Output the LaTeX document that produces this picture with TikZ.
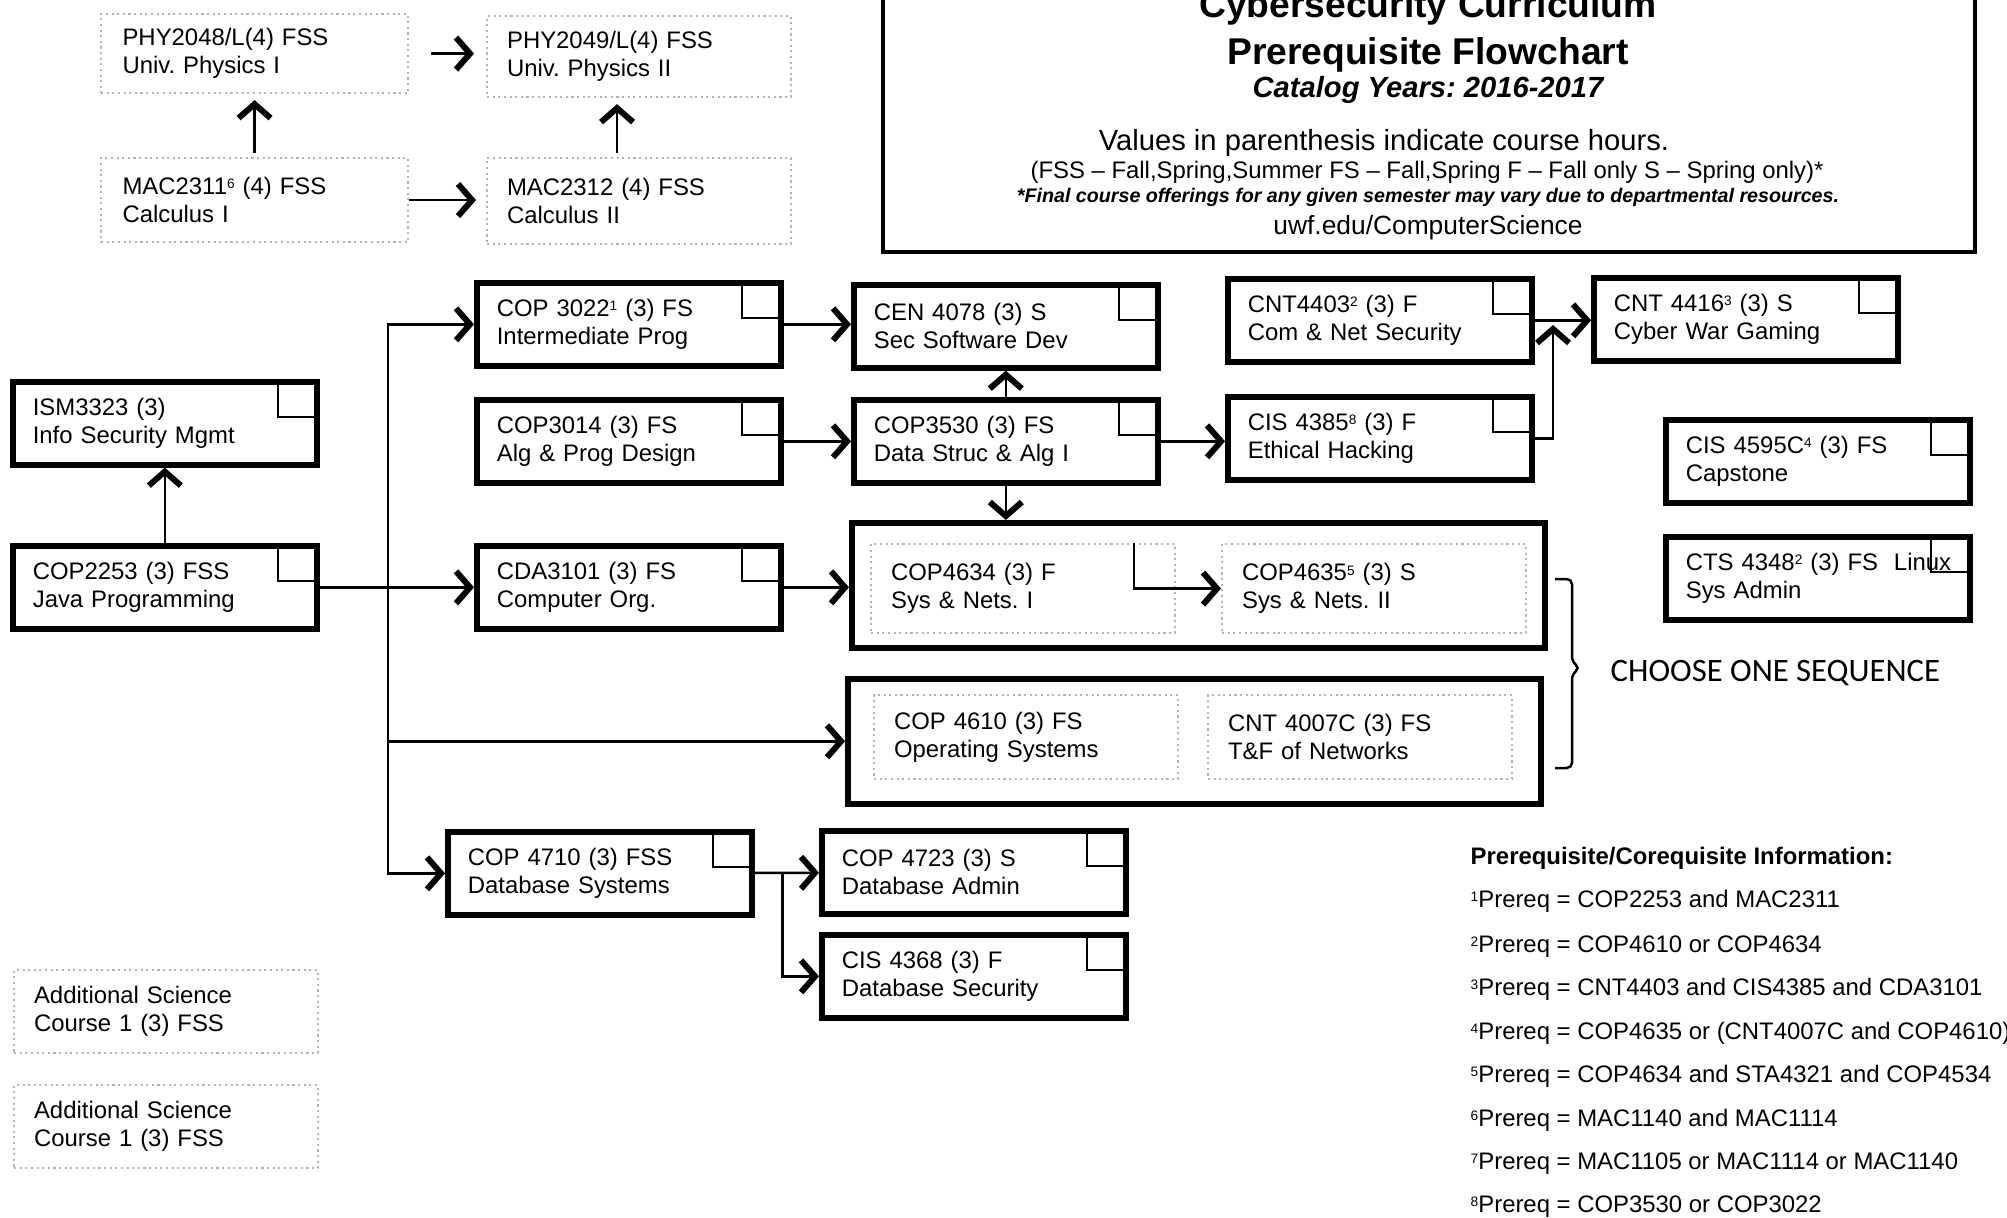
\documentclass[tikz,border=0pt]{standalone}
\usepackage{fontspec}
\setmainfont{Liberation Sans}
\newfontfamily\chfont{Carlito}
\usetikzlibrary{arrows.meta}
\frenchspacing
\newcommand\crsup[1]{\raisebox{0.45ex}{\fontsize{3.9}{4}\selectfont #1}}

\tikzset{
  course/.style={draw, line width=1.6pt, minimum width=3.04cm, minimum height=0.83cm,
    text width=2.64cm, inner xsep=0.2cm, align=left, anchor=north west,
    font=\fontsize{6.8}{8}\selectfont,
    path picture={\draw[line width=0.6pt] ([xshift=-0.39cm]path picture bounding box.north east)
      |- ([yshift=-0.35cm]path picture bounding box.north east);}},
  dbox/.style={draw=black!30, densely dotted, line width=0.6pt, minimum width=3.04cm,
    minimum height=0.83cm, text width=2.64cm, inner xsep=0.2cm, align=left,
    anchor=north west, font=\fontsize{6.8}{8}\selectfont},
  seqbox/.style={draw, line width=1.6pt, minimum width=6.93cm, minimum height=1.25cm, anchor=north west},
  arw/.style={-{Straight Barb[length=1.4mm,width=3.2mm,line width=1.7pt]}, line width=0.7pt},
  note/.style={anchor=base west, font=\fontsize{6.8}{8}\selectfont, inner sep=0pt}
}

\begin{document}
\begin{tikzpicture}
		\useasboundingbox (0,0) rectangle (20.07,-12.17);
		% title block
		\draw[line width=1pt](8.83,0.1) rectangle (19.75,-2.52);
		\node[anchor=base, font=\bfseries\fontsize{10.6}{12}\selectfont] (ttla) at (14.28,-0.17) {Cybersecurity Curriculum};
		\node[anchor=base, font=\bfseries\fontsize{10.6}{12}\selectfont] (ttlb) at (14.28,-0.64) {Prerequisite Flowchart};
		\node[anchor=base, font=\bfseries\itshape\fontsize{8.3}{10}\selectfont] (ttlc) at (14.28,-0.97) {Catalog Years: 2016-2017};
		\node[anchor=base, font=\fontsize{8.3}{10}\selectfont] (ttld) at (13.84,-1.50) {Values in parenthesis indicate course hours.};
		\node[anchor=base, font=\fontsize{6.8}{8}\selectfont] (ttle) at (14.27,-1.78) {(FSS -- Fall,Spring,Summer FS -- Fall,Spring F -- Fall only S -- Spring only)*};
		\node[anchor=base, font=\bfseries\itshape\fontsize{5.6}{7}\selectfont] (ttlf) at (14.28,-2.02) {*Final course offerings for any given semester may vary due to departmental resources.};
		\node[anchor=base, font=\fontsize{7.5}{9}\selectfont] (ttlg) at (14.28,-2.34) {uwf.edu/ComputerScience};
		% science courses
		\node[dbox, minimum width=3.07cm, minimum height=0.79cm] (phy1) at (1.00,-0.13) {PHY2048/L(4) FSS\\Univ. Physics I};
		\node[dbox, minimum height=0.81cm] (phy2) at (4.86,-0.15) {PHY2049/L(4) FSS\\Univ. Physics II};
		\node[dbox, minimum width=3.07cm, minimum height=0.84cm] (mac1) at (1.00,-1.57) {MAC2311\crsup{6} (4) FSS\\Calculus I};
		\node[dbox, minimum width=2.97cm, minimum height=0.86cm] (mac2) at (4.86,-1.57) {MAC2312 (4) FSS\\Calculus II};
		\node[dbox] (sci1) at (0.13,-9.69) {Additional Science\\Course 1 (3) FSS};
		\node[dbox] (sci2) at (0.13,-10.84) {Additional Science\\Course 1 (3) FSS};
		% courses
		\node[course] (ism) at (0.10,-3.79) {ISM3323 (3)\\Info Security Mgmt};
		\node[course] (cop2253) at (0.10,-5.43) {COP2253 (3) FSS\\Java Programming};
		\node[course] (cop3022) at (4.74,-2.80) {COP 3022\crsup{1} (3) FS\\Intermediate Prog};
		\node[course] (cop3014) at (4.74,-3.97) {COP3014 (3) FS\\Alg \& Prog Design};
		\node[course] (cda3101) at (4.74,-5.43) {CDA3101 (3) FS\\Computer Org.};
		\node[course] (cen4078) at (8.51,-2.82) {CEN 4078 (3) S\\Sec Software Dev};
		\node[course] (cop3530) at (8.51,-3.97) {COP3530 (3) FS\\Data Struc \& Alg I};
		\node[course] (cnt4403) at (12.25,-2.76) {CNT4403\crsup{2} (3) F\\Com \& Net Security};
		\node[course] (cis4385) at (12.25,-3.94) {CIS 4385\crsup{8} (3) F\\Ethical Hacking};
		\node[course] (cnt4416) at (15.91,-2.75) {CNT 4416\crsup{3} (3) S\\Cyber War Gaming};
		\node[course] (cis4595) at (16.63,-4.17) {CIS 4595C\crsup{4} (3) FS\\Capstone};
		\node[course] (cts4348) at (16.63,-5.34) {\mbox{CTS 4348\crsup{2} (3) FS\ \ Linux}\\Sys Admin};
		\node[course] (cop4710) at (4.45,-8.29) {COP 4710 (3) FSS\\Database Systems};
		\node[course] (cop4723) at (8.19,-8.28) {COP 4723 (3) S\\Database Admin};
		\node[course] (cis4368) at (8.19,-9.32) {CIS 4368 (3) F\\Database Security};
		% sequences
		\node[seqbox] (seq1) at (8.49,-5.20) {};
		\node[seqbox] (seq2) at (8.45,-6.76) {};
		\node[dbox, minimum width=3.01cm, minimum height=0.89cm] (s1a) at (8.70,-5.43) {COP4634 (3) F\\Sys \& Nets. I};
		\node[dbox, minimum width=3.02cm, minimum height=0.89cm] (s1b) at (12.21,-5.43) {COP4635\crsup{5} (3) S\\Sys \& Nets. II};
		\node[dbox, minimum width=3.02cm, minimum height=0.84cm] (s2a) at (8.73,-6.94) {COP 4610 (3) FS\\Operating Systems};
		\node[dbox, minimum width=3.03cm, minimum height=0.84cm] (s2b) at (12.07,-6.94) {CNT 4007C (3) FS\\T\&F of Networks};
		% brace
		\draw[line width=0.7pt, rounded corners=1.5pt](15.55,-5.79)--(15.72,-5.79)--(15.72,-6.62)--(15.80,-6.68)--(15.72,-6.74)--(15.72,-7.68)--(15.55,-7.68);
		\node[anchor=west, font=\chfont\fontsize{9.3}{11}\selectfont, inner sep=0pt] (choose) at (16.10,-6.73) {CHOOSE ONE SEQUENCE};
		% connectors
		\coordinate (bus) at (3.88,-5.845);
		\coordinate (wj) at (15.53,-3.25);
		\draw[arw, shorten <=0.22cm, shorten >=0.12cm](phy1)--(phy1 -| phy2.west);
		\draw[arw, shorten >=0.1cm](mac1)--(mac1 -| mac2.west);
		\draw[arw, shorten <=0.04cm, shorten >=0.06cm](mac1)--(phy1);
		\draw[arw, shorten <=0.04cm, shorten >=0.06cm]([xshift=-0.22cm]mac2.north)--([xshift=-0.22cm]mac2.north |- phy2.south);
		\draw[arw](cop2253)--(ism);
		\draw[arw](cop2253)--(cda3101);
		\draw[arw](bus) |- (cop3022);
		\draw[arw](bus) |- (seq2);
		\draw[arw](bus) |- (cop4710);
		\draw[arw](cop3022)--(cop3022 -| cen4078.west);
		\draw[arw](cop3014)--(cop3530);
		\draw[arw](cda3101)--(cda3101 -| seq1.west);
		\draw[arw](cop3530)--(cop3530 |- cen4078.south);
		\draw[arw](cop3530)--(cop3530 |- seq1.north);
		\draw[arw](cop3530)--(cop3530 -| cis4385.west);
		\draw[arw](cnt4403)--(cnt4403 -| cnt4416.west);
		\draw[arw](cis4385) -| (wj);
		\draw[arw](s1a.north east) ++(-0.42,0) |- (s1b);
		\draw[arw](cop4710)--(cop4723);
		\draw[arw](cop4710.east) ++(0.28,0) |- (cis4368);
		% prerequisite notes
		\node[note, font=\bfseries\fontsize{6.8}{8}\selectfont] (prh) at (14.70,-8.64) {Prerequisite/Corequisite Information:};
		\node[note] (pr1) at (14.70,-9.07) {\crsup{1}Prereq = COP2253 and MAC2311};
		\node[note] (pr2) at (14.70,-9.52) {\crsup{2}Prereq = COP4610 or COP4634};
		\node[note] (pr3) at (14.70,-9.95) {\crsup{3}Prereq = CNT4403 and CIS4385 and CDA3101};
		\node[note] (pr4) at (14.70,-10.39) {\crsup{4}Prereq = COP4635 or (CNT4007C and COP4610)};
		\node[note] (pr5) at (14.70,-10.82) {\crsup{5}Prereq = COP4634 and STA4321 and COP4534};
		\node[note] (pr6) at (14.70,-11.26) {\crsup{6}Prereq = MAC1140 and MAC1114};
		\node[note] (pr7) at (14.70,-11.69) {\crsup{7}Prereq = MAC1105 or MAC1114 or MAC1140};
		\node[note] (pr8) at (14.70,-12.12) {\crsup{8}Prereq = COP3530 or COP3022};
\end{tikzpicture}
\end{document}
